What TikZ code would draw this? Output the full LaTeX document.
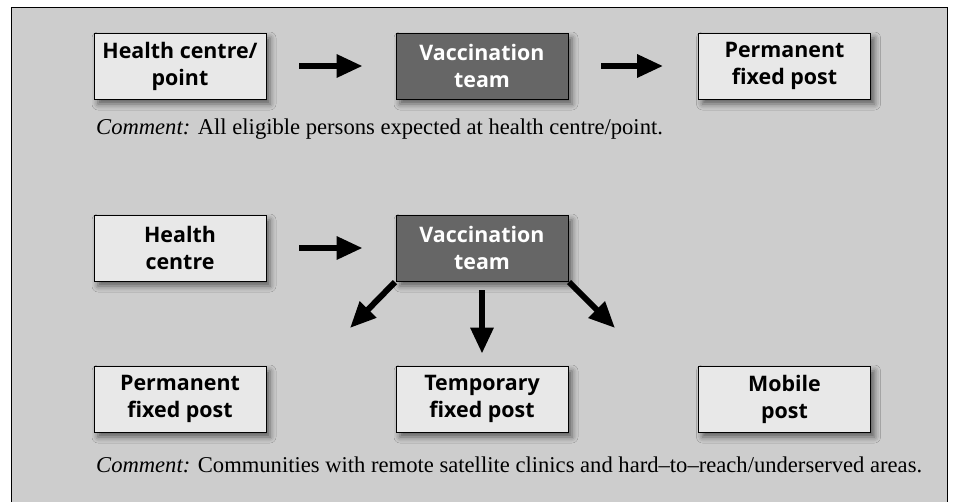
\documentclass[tikz,border=0pt]{standalone}
\usepackage{fontspec}
\setmainfont{Liberation Serif}
\setsansfont{Open Sans}
\usetikzlibrary{arrows.meta,shadows.blur}
\definecolor{bggray}{HTML}{CDCDCD}
\definecolor{lightbox}{HTML}{E8E8E8}
\definecolor{darkbox}{HTML}{666666}
\tikzset{
  boxbase/.style={draw=black, line width=0.8pt, minimum width=172pt, minimum height=66pt,
    align=center, inner sep=0pt,
    font=\sffamily\bfseries\fontsize{21.4}{27}\selectfont,
    blur shadow={shadow xshift=4pt, shadow yshift=-5pt, shadow blur radius=6pt, shadow opacity=55}},
  lightnode/.style={boxbase, fill=lightbox, text=black},
  darknode/.style={boxbase, fill=darkbox, text=white},
  bigarrow/.style={line width=6pt, -{Triangle[length=26pt,width=22pt]}},
  commenttext/.style={anchor=base west, inner sep=0pt, font=\fontsize{22.6}{26}\selectfont}
}
\begin{document}
\begin{tikzpicture}[x=1pt,y=-1pt]
\useasboundingbox (0,0) rectangle (955,501);
\fill[white] (0,0) rectangle (955,501);
\draw[fill=bggray, line width=0.9pt] (11,7) rectangle (947,506);
% row 1
\node[lightnode] (hc1) at (180,66) {Health centre/\\point};
\node[darknode] (vt1) at (482,66) {Vaccination\\team};
\node[lightnode] (pf1) at (784.5,66) {Permanent\\fixed post};
\draw[bigarrow, shorten <=33pt, shorten >=33pt] (hc1) -- (vt1);
\draw[bigarrow, shorten <=33pt, shorten >=35pt] (vt1) -- (pf1);
\node[commenttext] (c1) at (96,134) {\textit{Comment:} All eligible persons expected at health centre/point.};
% row 2
\node[lightnode] (hc2) at (180,248) {Health\\centre};
\node[darknode] (vt2) at (482,248) {Vaccination\\team};
\draw[bigarrow, shorten <=33pt, shorten >=33pt] (hc2) -- (vt2);
% row 3
\node[lightnode] (pf2) at (180,399) {Permanent\\fixed post};
\node[lightnode] (tf2) at (482,399) {Temporary\\fixed post};
\node[lightnode] (mp2) at (784.5,399) {Mobile\\post};
\coordinate (tipL) at (350,328);
\coordinate (tipR) at (615,328);
\draw[bigarrow, shorten <=1pt] (vt2.south west) -- (tipL);
\draw[bigarrow, shorten <=9pt, shorten >=12pt] (vt2.south) -- (tf2.north);
\draw[bigarrow, shorten <=1pt] (vt2.south east) -- (tipR);
\node[commenttext] (c2) at (96,472) {\textit{Comment:} Communities with remote satellite clinics and hard--to--reach/underserved areas.};
\end{tikzpicture}
\end{document}
